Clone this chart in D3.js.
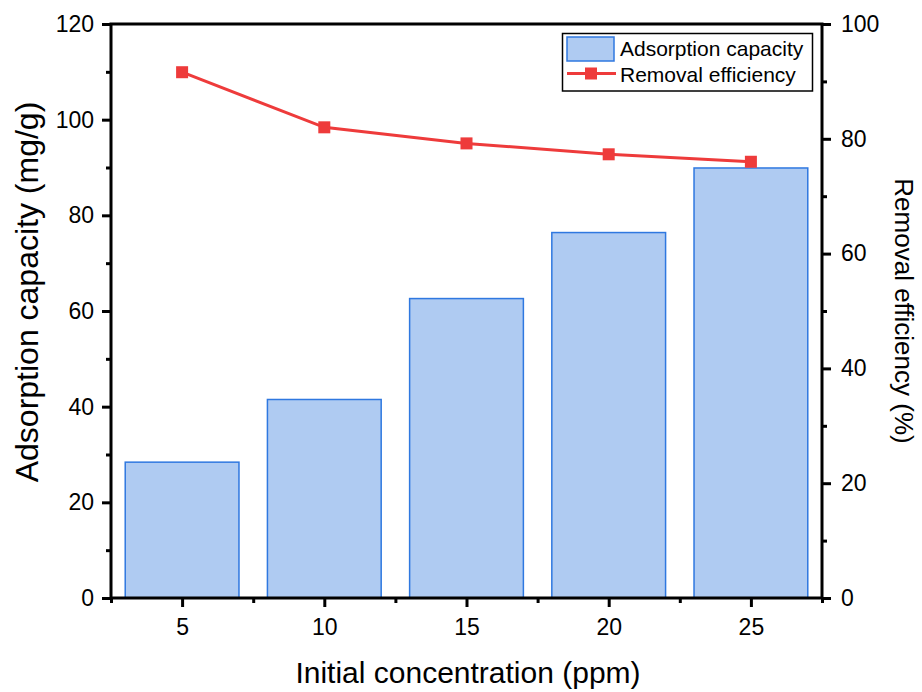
<!DOCTYPE html>
<html><head><meta charset="utf-8">
<script src="https://cdn.jsdelivr.net/npm/d3@7/dist/d3.min.js"></script>
<style>body{margin:0;background:#fff}svg{display:block}text{font-family:"Liberation Sans",Arial,sans-serif;fill:#000}</style>
</head><body><svg id="c" width="922" height="692"></svg>
<script>
const concentrations = [5, 10, 15, 20, 25];
const adsorptionCapacity = [28.4, 41.5, 62.6, 76.4, 89.9];
const removalEfficiency = [91.6, 82.0, 79.2, 77.3, 76.0];
const leftTicks = [0, 20, 40, 60, 80, 100, 120];
const rightTicks = [0, 20, 40, 60, 80, 100];

const svg = d3.select("#c");
const L = 111, R = 822, T = 24, B = 598;
const x = d3.scaleLinear().domain([2.5, 27.5]).range([L, R]);
const yL = d3.scaleLinear().domain([0, 120]).range([B, T]);
const yR = d3.scaleLinear().domain([0, 100]).range([B, T]);
const barW = 4;

// bars
svg.append("g").selectAll("rect").data(concentrations).join("rect")
  .attr("x", d => x(d - barW/2)).attr("width", d => x(d + barW/2) - x(d - barW/2))
  .attr("y", (d,i) => yL(adsorptionCapacity[i])).attr("height", (d,i) => yL(0) - yL(adsorptionCapacity[i]))
  .attr("fill", "#afcbf2").attr("stroke", "#2f78e0").attr("stroke-width", 1.5);

// line
const red = "#ee3b3b";
svg.append("path").datum(concentrations)
  .attr("d", d3.line().x(d => x(d)).y((d,i) => yR(removalEfficiency[i])))
  .attr("fill", "none").attr("stroke", red).attr("stroke-width", 3);
svg.append("g").selectAll("rect").data(concentrations).join("rect")
  .attr("x", d => x(d) - 6).attr("y", (d,i) => yR(removalEfficiency[i]) - 6)
  .attr("width", 12).attr("height", 12).attr("fill", red);

function styleAxis(g){
  g.selectAll(".domain").remove();
  g.attr("font-size", 23).attr("font-family", '"Liberation Sans",Arial,sans-serif');
  g.selectAll("line").attr("stroke", "#000").attr("stroke-width", 3);
  g.selectAll("text").attr("font-size", 23);
}
// bottom axis
const gx = svg.append("g").attr("transform", `translate(0,${B})`)
  .call(d3.axisBottom(x).tickValues(concentrations).tickSize(9).tickPadding(12).tickFormat(d3.format("d")));
styleAxis(gx);
const gxm = svg.append("g").attr("transform", `translate(0,${B})`)
  .call(d3.axisBottom(x).tickValues([2.5,7.5,12.5,17.5,22.5,27.5]).tickSize(5).tickFormat(""));
styleAxis(gxm);
// left
const gl = svg.append("g").attr("transform", `translate(${L},0)`)
  .call(d3.axisLeft(yL).tickValues(leftTicks).tickSize(9).tickPadding(8));
styleAxis(gl);
const glm = svg.append("g").attr("transform", `translate(${L},0)`)
  .call(d3.axisLeft(yL).tickValues([10,30,50,70,90,110]).tickSize(5).tickFormat(""));
styleAxis(glm);
// right
const gr = svg.append("g").attr("transform", `translate(${R},0)`)
  .call(d3.axisRight(yR).tickValues(rightTicks).tickSize(9).tickPadding(10));
styleAxis(gr);
const grm = svg.append("g").attr("transform", `translate(${R},0)`)
  .call(d3.axisRight(yR).tickValues([10,30,50,70,90]).tickSize(5).tickFormat(""));
styleAxis(grm);

// frame
svg.append("rect").attr("x", L).attr("y", T).attr("width", R-L).attr("height", B-T)
  .attr("fill", "none").attr("stroke", "#000").attr("stroke-width", 3);

// axis titles
svg.append("text").attr("x", 468).attr("y", 683).attr("text-anchor", "middle")
  .attr("font-size", 30).text("Initial concentration (ppm)");
svg.append("text").attr("transform", `translate(38,292) rotate(-90)`).attr("text-anchor", "middle")
  .attr("font-size", 32).text("Adsorption capacity (mg/g)");
svg.append("text").attr("transform", `translate(895,311) rotate(90)`).attr("text-anchor", "middle")
  .attr("font-size", 26).text("Removal efficiency (%)");

// legend
const lg = svg.append("g");
lg.append("rect").attr("x", 562.5).attr("y", 33.5).attr("width", 250).attr("height", 57.5)
  .attr("fill", "#fff").attr("stroke", "#000").attr("stroke-width", 1.5);
lg.append("rect").attr("x", 567).attr("y", 37).attr("width", 47).attr("height", 24)
  .attr("fill", "#afcbf2").attr("stroke", "#2f78e0").attr("stroke-width", 1.5);
lg.append("line").attr("x1", 567).attr("x2", 616).attr("y1", 73.5).attr("y2", 73.5)
  .attr("stroke", red).attr("stroke-width", 3);
lg.append("rect").attr("x", 585).attr("y", 67.5).attr("width", 12).attr("height", 12).attr("fill", red);
lg.append("text").attr("x", 620).attr("y", 56).attr("font-size", 21).text("Adsorption capacity");
lg.append("text").attr("x", 620).attr("y", 82).attr("font-size", 21).text("Removal efficiency");
</script></body></html>
